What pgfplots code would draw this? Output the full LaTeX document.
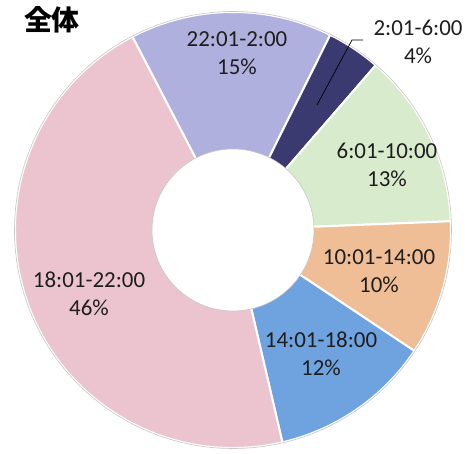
\documentclass[border=0pt]{standalone}
\usepackage{pgfplots}
\usepackage{pgfplotstable}
\pgfplotsset{compat=1.18}
\usepackage{fontspec}
\setmainfont{Carlito}
\newfontfamily\cjk{Noto Sans CJK JP}

\definecolor{c0}{RGB}{176,176,222}
\definecolor{c1}{RGB}{58,58,112}
\definecolor{c2}{RGB}{216,235,205}
\definecolor{c3}{RGB}{240,190,150}
\definecolor{c4}{RGB}{111,163,224}
\definecolor{c5}{RGB}{236,196,207}
\definecolor{txt}{RGB}{30,30,30}

\pgfplotstableread[col sep=comma]{
pct
15
4
13
10
12
46
}\datatable

\gdef\angstart{117.5}
\pgfplotstableforeachcolumnelement{pct}\of\datatable\as\p{%
  \pgfmathsetmacro\aend{\angstart - 3.6*\p}%
  \expandafter\xdef\csname a\pgfplotstablerow start\endcsname{\angstart}%
  \expandafter\xdef\csname a\pgfplotstablerow end\endcsname{\aend}%
  \xdef\angstart{\aend}%
}

\begin{document}
\begin{tikzpicture}
\useasboundingbox (0,0) rectangle (470bp,454bp);
\begin{axis}[x=1bp, y=1bp, xmin=0, xmax=470, ymin=0, ymax=454,
  hide axis, clip=false, anchor=south west, at={(0,0)}]
\pgfplotsinvokeforeach{0,...,5}{
  \filldraw[fill=c#1, draw=white, line width=2bp, line join=round]
    (axis cs:233,224) -- ++(\csname a#1start\endcsname:218bp)
    arc[start angle=\csname a#1start\endcsname, end angle=\csname a#1end\endcsname, radius=218bp] -- cycle;
}
\draw[gray!45, line width=0.6bp] (axis cs:233,224) circle[radius=218.5bp];
\fill[white] (axis cs:233,224) circle[radius=81bp];
\draw[gray!45, line width=0.6bp] (axis cs:233,224) circle[radius=81bp];
\draw[black, line width=0.7bp] (axis cs:317,349) -- (axis cs:352,414) -- (axis cs:363,414);
\begin{scope}[every node/.style={align=center, text=txt, font=\fontsize{23}{28}\selectfont}]
\node at (axis cs:237,401) {22:01-2:00\\15\%};
\node at (axis cs:418,412) {2:01-6:00\\4\%};
\node at (axis cs:387,289) {6:01-10:00\\13\%};
\node at (axis cs:379,183) {10:01-14:00\\10\%};
\node at (axis cs:321,100) {14:01-18:00\\12\%};
\node at (axis cs:89,160) {18:01-22:00\\46\%};
\end{scope}
\node[font=\cjk\bfseries\fontsize{28}{30}\selectfont, text=black] at (axis cs:52,434) {全体};
\end{axis}
\end{tikzpicture}
\end{document}
